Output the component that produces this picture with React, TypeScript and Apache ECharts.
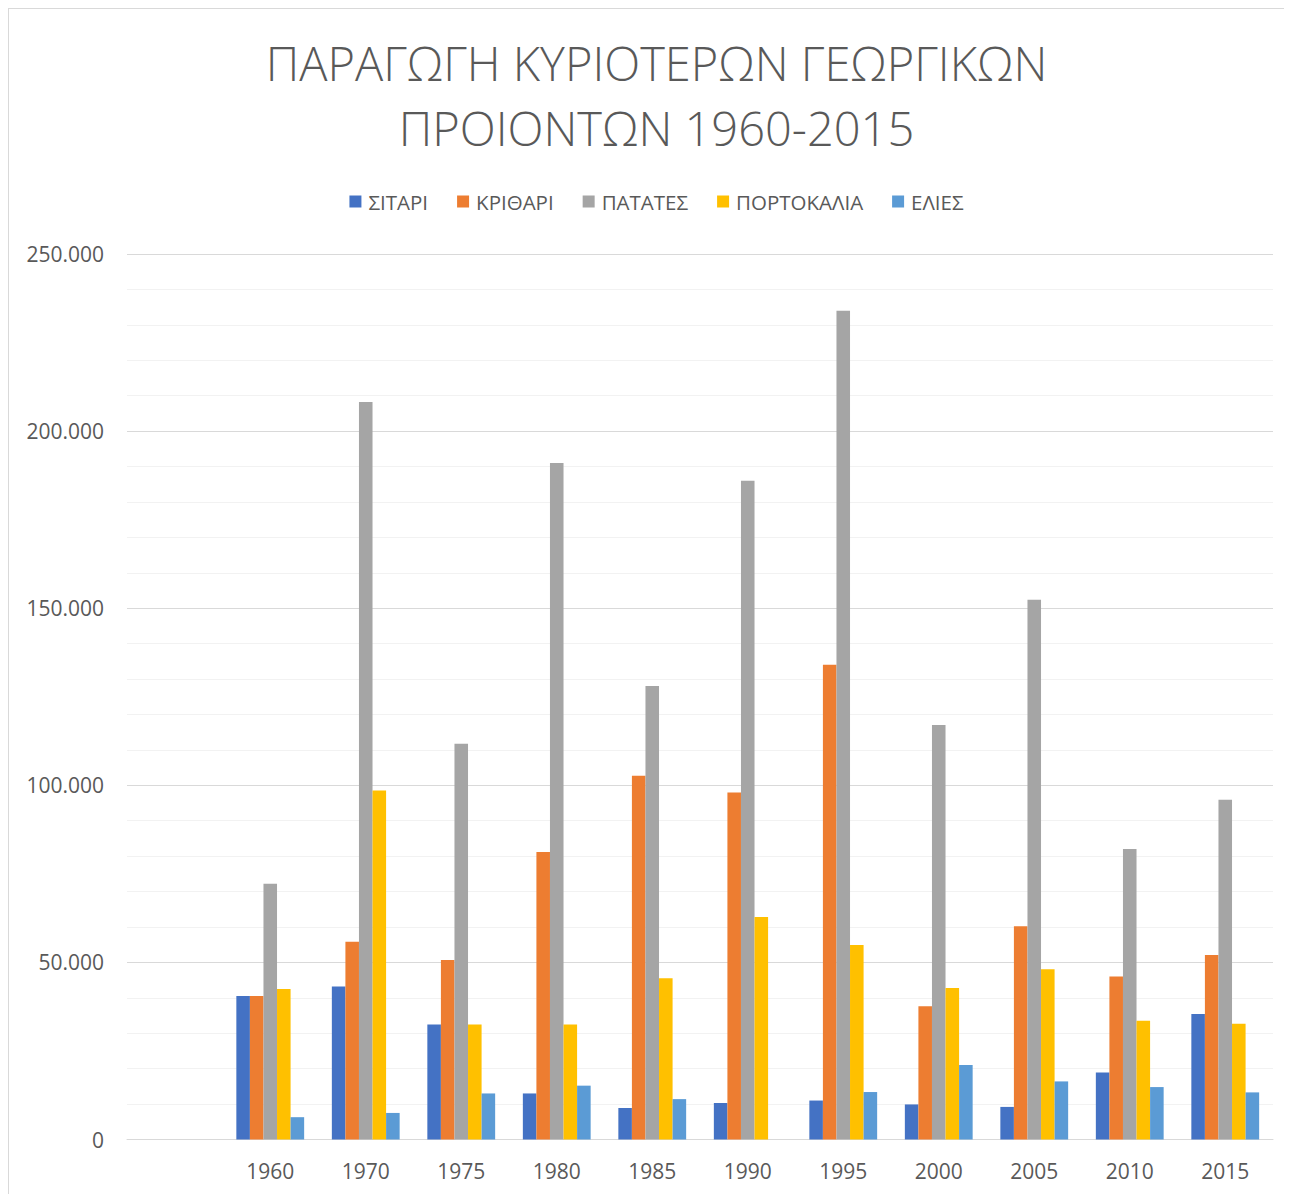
import React, { useEffect, useRef } from "react";
import * as echarts from "echarts";

const categories = ["", "1960", "1970", "1975", "1980", "1985", "1990", "1995", "2000", "2005", "2010", "2015"];
const seriesNames = ["ΣΙΤΑΡΙ", "ΚΡΙΘΑΡΙ", "ΠΑΤΑΤΕΣ", "ΠΟΡΤΟΚΑΛΙΑ", "ΕΛΙΕΣ"];
const sitari = [null, 40500, 43200, 32500, 13000, 8900, 10300, 11000, 9900, 9200, 18900, 35400];
const krithari = [null, 40500, 55800, 50700, 81200, 102700, 98000, 134000, 37600, 60200, 46000, 52100];
const patates = [null, 72200, 208200, 111700, 191000, 128000, 186000, 234000, 117000, 152400, 82000, 95900];
const portokalia = [null, 42500, 98500, 32500, 32500, 45500, 62800, 54900, 42800, 48100, 33500, 32700];
const elies = [null, 6300, 7500, 13000, 15200, 11400, null, 13400, 21000, 16400, 14800, 13300];
const colors = ["#4472C4", "#ED7D31", "#A5A5A5", "#FFC000", "#5B9BD5"];
const titleLines = ["ΠΑΡΑΓΩΓΗ ΚΥΡΙΟΤΕΡΩΝ ΓΕΩΡΓΙΚΩΝ", "ΠΡΟΙΟΝΤΩΝ 1960-2015"];
const yMax = 250000;
const yInterval = 50000;

const FONT = "'Open Sans', 'Noto Sans', sans-serif";

function fmt(v: number): string {
  return String(v).replace(/\B(?=(\d{3})+(?!\d))/g, ".");
}

export default function App() {
  const ref = useRef<HTMLDivElement>(null);
  useEffect(() => {
    if (!ref.current) return;
    const chart = echarts.init(ref.current, undefined, { renderer: "svg" });
    const allData = [sitari, krithari, patates, portokalia, elies];
    chart.setOption({
      animation: false,
      backgroundColor: "#ffffff",
      color: colors,
      title: {
        text: titleLines.join("\n"),
        left: "center",
        top: 16,
        textStyle: {
          fontFamily: FONT,
          fontSize: 47,
          fontWeight: 300,
          color: "#595959",
          lineHeight: 65,
        },
      },
      legend: {
        data: seriesNames,
        left: "center",
        top: 182,
        padding: 0,
        itemWidth: 12,
        itemHeight: 12,
        itemGap: 29,
        icon: "rect",
        textStyle: {
          fontFamily: FONT,
          fontSize: 20.5,
          color: "#595959",
          lineHeight: 20,
          padding: [0, 0, 0, 2],
        },
      },
      grid: {
        left: 118,
        right: 31,
        top: 245,
        bottom: 54.5,
        containLabel: false,
      },
      xAxis: {
        type: "category",
        data: categories,
        axisLine: { show: true, lineStyle: { color: "#d9d9d9", width: 1 } },
        axisTick: { show: false },
        axisLabel: {
          color: "#595959",
          fontFamily: FONT,
          fontSize: 21,
          margin: 21,
          interval: 0,
        },
        splitLine: { show: false },
      },
      yAxis: {
        type: "value",
        min: 0,
        max: yMax,
        interval: yInterval,
        axisLine: { show: false },
        axisTick: { show: false },
        axisLabel: {
          color: "#595959",
          fontFamily: FONT,
          fontSize: 21,
          margin: 23,
          formatter: (v: number) => fmt(v),
        },
        splitLine: { show: true, lineStyle: { color: "#d9d9d9", width: 1 } },
        minorTick: { show: false, splitNumber: 5 },
        minorSplitLine: { show: true, lineStyle: { color: "#f2f2f2", width: 1 } },
      },
      series: seriesNames.map((name, i) => ({
        name,
        type: "bar",
        data: allData[i],
        barGap: "0%",
        barCategoryGap: "29%",
        itemStyle: { color: colors[i] },
      })),
    });
    return () => chart.dispose();
  }, []);
  return (
    <div
      style={{
        width: 1284,
        height: 1186,
        overflow: "hidden",
        borderTop: "1px solid #d9d9d9",
        borderLeft: "1px solid #d9d9d9",
        boxSizing: "border-box",
        background: "#fff",
      }}
    >
      <div ref={ref} style={{ width: 1295, height: 1185 }} />
    </div>
  );
}
